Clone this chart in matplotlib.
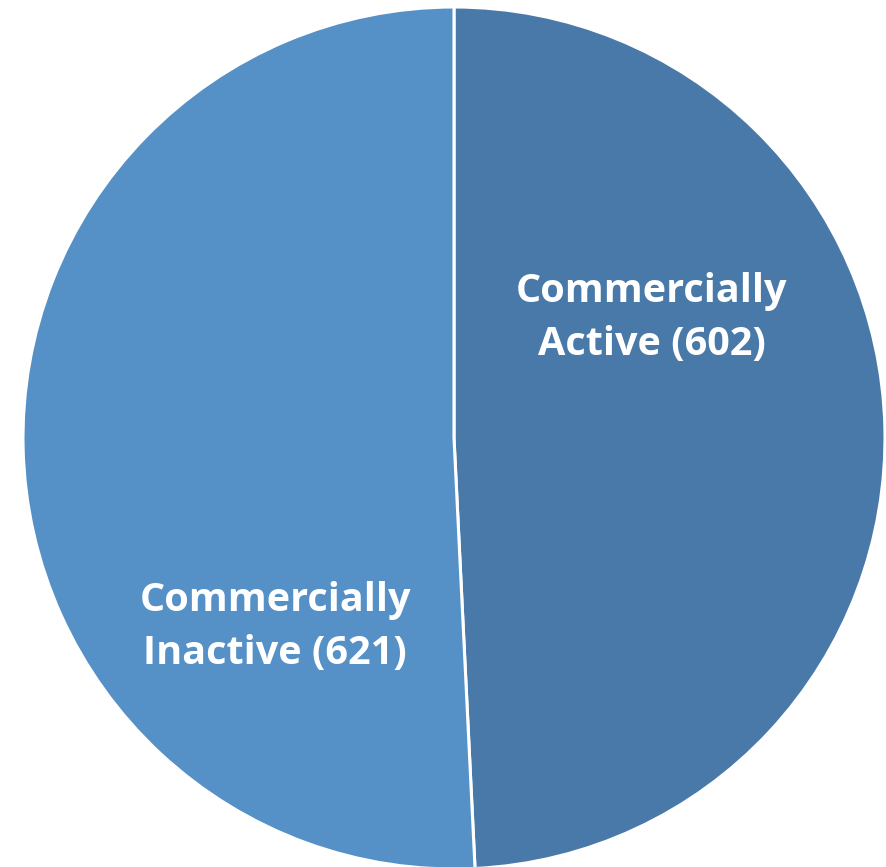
import matplotlib.pyplot as plt

labels = ['Commercially\nActive (602)', 'Commercially\nInactive (621)']
counts = [602, 621]
colors = ['#4879A8', '#5591C7']
label_pos = [(0.459, 0.278), (-0.415, -0.439)]

W, H = 886, 867
fig = plt.figure(figsize=(W / 100, H / 100), dpi=100)
cx, cy, r = 454, 438, 431
ax = fig.add_axes([(cx - r) / W, (H - cy - r) / H, 2 * r / W, 2 * r / H])

ax.pie(counts, colors=colors, startangle=90, counterclock=False, radius=1,
       wedgeprops=dict(edgecolor='white', linewidth=2.2))
ax.set_xlim(-1, 1)
ax.set_ylim(-1, 1)
ax.set_aspect('equal')
ax.axis('off')

for lab, (x, y) in zip(labels, label_pos):
    ax.text(x, y, lab, ha='center', va='center', color='white',
            fontsize=28.5, fontweight='bold', family='Open Sans', linespacing=1.45)

fig.savefig('out.png', dpi=100)
